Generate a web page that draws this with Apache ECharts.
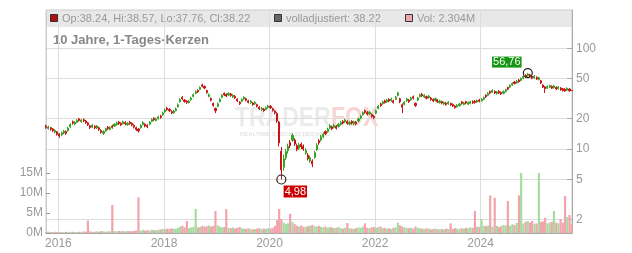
<!DOCTYPE html>
<html><head><meta charset="utf-8">
<script src="https://cdn.jsdelivr.net/npm/echarts@6/dist/echarts.min.js"></script>
<style>html,body{margin:0;padding:0;background:#fff}#c{width:632px;height:253px}</style>
</head><body><div id="c"></div>
<script>
// half-month periods Oct 2015 .. Sep 2025
const dates = [];
for (let m = 0; m < 120; m++) {
  const y = 2015 + Math.floor((9 + m) / 12);
  const mm = String((9 + m) % 12 + 1).padStart(2, '0');
  dates.push(y + '-' + mm + '-08', y + '-' + mm + '-23');
}
// [open, close, low, high]
const ohlc = [
[16.9,16.4,15.9,17.4],[16.0,16.5,15.6,17.0],[16.3,15.7,15.2,16.6],[15.8,15.2,14.7,16.1],[14.7,15.3,14.3,15.7],
[14.8,14.0,13.6,15.1],[14.1,13.5,12.9,14.4],[13.8,14.5,13.5,14.9],[14.4,15.0,14.0,15.5],[14.9,14.3,13.8,15.3],
[15.2,16.1,14.9,16.6],[16.6,17.5,16.2,18.0],[18.6,18.0,17.4,19.2],[17.7,18.4,17.2,18.9],[18.4,19.2,18.0,19.8],
[19.9,19.2,18.7,20.4],[18.7,19.4,18.2,19.9],[19.6,19.0,18.5,20.1],[19.0,18.3,17.8,19.4],[18.2,17.4,16.9,18.6],
[17.0,16.3,15.8,17.4],[16.5,17.2,16.1,17.7],[16.8,16.2,15.7,17.2],[16.2,16.9,15.8,17.3],[16.3,15.6,15.1,16.7],
[15.3,14.7,14.2,15.7],[14.3,14.9,13.8,15.3],[15.1,15.9,14.8,16.3],[16.5,15.9,15.4,16.9],[15.7,16.3,15.3,16.8],
[16.9,16.4,15.9,17.4],[16.9,17.6,16.5,18.1],[17.5,18.2,17.1,18.7],[18.5,17.9,17.3,19.0],[18.0,17.4,16.9,18.4],
[17.9,18.6,17.5,19.1],[18.4,17.8,17.2,18.9],[17.4,18.0,17.0,18.5],[18.5,17.9,17.4,19.0],[18.0,17.3,16.8,18.4],
[17.2,16.5,16.0,17.6],[16.3,15.6,15.1,16.7],[15.8,15.1,14.6,16.1],[16.2,17.1,15.9,17.6],[17.5,18.3,17.1,18.9],
[17.6,16.9,16.4,18.0],[17.2,16.6,16.1,17.6],[17.6,18.4,17.2,18.9],[18.8,19.6,18.4,20.2],[20.2,19.5,19.0,20.7],
[19.2,19.9,18.8,20.5],[20.0,20.8,19.6,21.4],[21.3,20.6,20.0,21.9],[21.8,22.8,21.4,23.5],[23.3,24.4,22.9,25.1],
[25.4,24.6,24.0,26.2],[24.8,24.0,23.3,25.4],[23.6,22.8,22.2,24.2],[22.9,23.8,22.4,24.5],[24.0,25.0,23.6,25.8],
[26.2,27.5,25.8,28.3],[29.5,31.0,29.0,31.9],[32.6,31.5,30.6,33.5],[30.6,29.6,28.8,31.4],[29.8,28.9,28.1,30.6],
[29.0,29.9,28.3,30.8],[30.8,32.0,30.2,33.0],[33.3,34.6,32.6,35.6],[35.7,37.1,35.0,38.2],[38.2,37.0,36.0,39.2],
[39.0,40.7,38.3,41.8],[43.3,42.0,41.0,44.5],[41.8,40.3,39.3,42.8],[38.0,36.4,35.4,38.8],[33.3,34.6,32.6,35.6],
[31.8,30.5,29.7,32.5],[28.3,27.0,26.3,28.9],[25.3,24.0,22.7,25.8],[26.6,28.1,26.0,28.9],[29.6,31.1,29.0,32.0],
[32.6,34.1,31.9,35.1],[35.7,34.4,33.5,36.6],[34.9,33.6,32.8,35.8],[34.3,35.6,33.5,36.6],[35.2,34.0,33.0,36.0],
[32.9,34.1,32.1,35.0],[33.4,32.2,31.4,34.3],[31.2,30.0,29.2,31.9],[29.2,28.1,27.4,29.9],[29.8,31.0,29.2,31.9],
[31.4,32.6,30.7,33.5],[31.6,30.5,29.7,32.4],[30.1,29.0,28.3,30.8],[28.8,29.8,28.1,30.6],[28.6,27.6,26.8,29.3],
[28.1,29.0,27.4,29.9],[27.6,26.6,25.9,28.2],[26.0,25.1,24.4,26.7],[24.6,25.4,23.9,26.1],[24.9,24.0,23.4,25.5],
[24.8,25.7,24.2,26.4],[25.8,26.7,25.2,27.5],[26.6,25.7,25.0,27.3],[25.1,24.2,23.5,25.7],[23.8,22.9,22.1,24.3],
[22.5,19.0,18.2,23.2],[18.5,11.5,10.6,19.0],[9.5,6.2,4.98,10.5],[6.6,8.0,6.1,8.8],[8.2,9.4,7.8,10.0],
[9.6,10.6,9.0,11.3],[11.6,10.8,10.2,12.3],[12.2,13.7,11.8,14.4],[12.3,11.2,10.7,12.8],[10.8,9.9,9.5,11.3],
[10.2,11.0,9.8,11.5],[11.2,10.5,10.0,11.6],[10.7,10.0,9.6,11.1],[9.1,9.7,8.8,10.2],[8.7,8.0,7.7,9.1],
[7.6,8.2,7.3,8.6],[7.6,7.1,6.6,7.9],[8.3,9.2,8.0,9.6],[9.9,10.9,9.6,11.4],[12.1,11.5,11.0,12.6],
[12.3,13.2,11.9,13.8],[13.2,14.0,12.8,14.6],[14.9,14.2,13.7,15.3],[14.9,15.7,14.5,16.3],[16.1,17.0,15.7,17.6],
[16.6,15.9,15.4,17.1],[16.4,17.2,16.0,17.8],[16.8,16.1,15.6,17.3],[16.8,17.6,16.3,18.2],[17.6,18.4,17.1,19.0],
[18.8,18.1,17.5,19.4],[18.6,19.4,18.1,20.0],[18.7,18.0,17.4,19.3],[17.7,18.4,17.1,18.9],[18.8,18.1,17.5,19.3],
[17.9,18.6,17.3,19.1],[18.5,17.8,17.2,19.0],[19.0,19.9,18.5,20.5],[20.3,21.2,19.8,21.9],[21.9,23.0,21.4,23.7],
[24.0,23.1,22.4,24.7],[23.1,22.2,21.5,23.8],[22.3,23.2,21.7,23.9],[22.0,21.1,20.4,22.6],[21.2,20.4,19.8,21.8],
[22.7,24.0,22.2,24.7],[25.3,26.6,24.7,27.3],[28.1,27.0,26.2,28.9],[28.2,29.4,27.5,30.2],[30.1,29.0,28.2,30.9],
[29.4,30.6,28.7,31.5],[31.1,30.0,29.2,31.9],[30.2,31.4,29.5,32.3],[30.1,29.0,28.2,30.9],[31.2,32.7,30.6,33.6],
[34.2,36.1,33.3,37.0],[31.5,29.4,28.5,32.3],[27.5,26.0,22.8,28.3],[27.8,29.1,27.1,29.9],[30.1,31.4,29.4,32.3],
[30.6,29.5,28.7,31.4],[30.8,32.1,30.1,33.0],[33.1,31.9,31.0,34.0],[28.4,27.0,26.2,29.0],[30.6,32.1,29.9,33.0],
[33.2,34.6,32.4,35.6],[35.0,33.8,32.9,36.0],[32.9,34.1,32.0,35.0],[33.1,32.0,31.1,33.9],[32.4,33.6,31.6,34.5],
[32.1,31.0,30.1,32.9],[31.1,30.0,29.2,31.8],[30.4,31.6,29.6,32.4],[30.6,29.5,28.7,31.3],[29.0,30.0,28.2,30.8],
[29.5,28.6,27.8,30.2],[28.0,29.0,27.3,29.7],[28.5,27.6,26.9,29.2],[28.2,29.2,27.5,29.9],[28.3,27.4,26.7,29.0],
[27.7,26.8,26.1,28.4],[26.7,25.8,25.1,27.3],[26.3,27.2,25.7,27.9],[27.0,28.0,26.4,28.7],[29.3,28.3,27.6,30.0],
[27.7,28.7,27.1,29.4],[29.5,28.6,27.8,30.2],[27.9,28.9,27.3,29.6],[28.4,29.4,27.8,30.1],[29.7,28.8,28.0,30.4],
[29.9,29.0,28.2,30.6],[29.3,30.3,28.6,31.0],[30.7,29.8,29.0,31.5],[30.1,31.2,29.5,32.0],[31.2,32.4,30.6,33.2],
[34.1,33.0,32.1,35.0],[34.2,35.7,33.5,36.6],[37.2,35.9,35.0,38.1],[36.7,38.2,36.0,39.2],[37.3,36.0,35.1,38.2],
[35.5,36.8,34.8,37.7],[37.5,36.2,35.3,38.4],[36.5,35.2,34.4,37.3],[35.8,37.1,35.0,38.1],[37.2,38.7,36.5,39.7],
[40.8,39.3,38.4,41.7],[41.1,42.8,40.3,43.9],[43.1,44.8,42.2,45.9],[46.3,44.7,43.7,47.5],[45.4,47.2,44.5,48.3],
[48.4,46.6,45.6,49.6],[48.0,50.0,47.0,51.2],[50.5,52.5,49.4,53.8],[54.0,52.0,50.9,55.3],[53.4,55.5,52.3,56.76],
[54.5,52.5,51.4,55.8],[52.5,50.5,49.4,53.8],[51.0,53.0,50.0,54.3],[51.5,49.5,48.5,52.7],[49.0,51.0,48.0,52.2],
[47.5,45.2,44.2,48.5],[43.2,41.2,40.3,44.0],[41.3,39.7,36.0,42.2],[40.2,41.8,39.4,42.8],[41.0,42.6,40.2,43.6],
[41.8,40.2,39.4,42.8],[40.7,42.3,39.9,43.3],[41.0,39.4,38.6,41.9],[39.7,41.3,38.9,42.2],[40.3,38.7,37.9,41.2],
[39.6,38.0,37.3,40.4],[39.3,37.7,37.0,40.1],[38.4,40.0,37.6,40.9],[39.4,37.8,37.1,40.2],[38.24,38.22,37.76,38.57]
];
// volume in millions
const volume = [
0.2,0.3,0.2,0.2,0.3,0.2,0.3,0.2,0.2,0.3, 0.2,0.2,0.3,0.2,0.2,0.3,0.2,0.4,0.3,3.1,
0.4,0.3,0.3,0.4,0.3,0.5,0.4,0.3,0.4,0.4, 7.0,0.5,0.4,0.5,0.4,0.5,0.4,0.5,0.5,0.4,
0.5,0.6,8.9,0.6,0.8,0.6,0.7,0.6,0.8,0.7, 0.7,0.8,0.9,1.0,0.9,1.1,1.0,1.2,1.0,1.1,
1.3,1.6,1.8,1.4,3.0,1.2,1.4,1.5,6.0,1.4, 1.5,1.8,1.6,1.7,1.9,1.6,1.8,5.5,1.9,1.6,
1.4,1.5,6.0,1.3,1.2,1.4,1.1,1.3,1.5,1.2, 1.1,1.0,1.2,1.0,0.9,1.0,1.1,1.2,1.0,1.1,
1.0,1.2,1.1,1.3,1.8,3.2,6.0,3.5,2.6,2.2, 2.4,4.8,2.8,2.2,1.8,1.6,1.9,1.5,1.6,1.7,
1.8,2.0,1.7,1.6,1.8,1.5,1.4,1.6,1.3,1.5, 1.4,1.2,1.3,1.5,1.2,1.1,1.3,2.5,1.2,1.1,
1.0,1.2,1.4,1.3,1.6,2.4,1.3,1.2,1.4,1.5, 1.3,1.5,1.6,1.2,1.3,1.1,1.2,1.0,1.3,1.4,
2.6,1.9,1.6,1.4,1.3,1.2,1.3,1.1,1.6,1.3, 1.2,1.1,1.0,1.2,1.1,0.9,1.0,1.1,0.9,1.0,
1.0,0.9,1.1,1.0,2.4,1.0,1.2,1.1,1.0,1.2, 1.1,1.3,1.2,1.4,1.3,5.5,1.6,1.5,3.5,1.8,
1.7,1.9,9.4,1.6,8.8,1.8,1.5,1.7,2.0,1.9, 8.0,1.8,2.2,2.0,2.5,9.4,15.0,2.4,2.8,3.0,
2.6,3.0,2.2,2.4,15.0,2.8,2.9,3.8,2.4,2.6, 2.8,5.5,2.6,2.4,3.5,2.6,9.3,4.0,4.5,2.304
];
const priceTicks = [2, 5, 10, 20, 50, 100];
const volTicks = [0, 5, 10, 15];
const yearTicks = ['2016-01-01', '2018-01-01', '2020-01-01', '2022-01-01', '2024-01-01'];
const xRange = ['2015-10-07', '2025-09-25'];
const highPoint = { idx: 219, value: 56.76, label: '56,76' };
const lowPoint = { idx: 107, value: 4.98, label: '4,98' };

const FONT = "'Liberation Sans', Arial, Helvetica, sans-serif";
const UP = '#33a324', DOWN = '#c81414';
const VOL_UP = '#a6dca0', VOL_DOWN = '#f2a3ab';
const last = ohlc[ohlc.length - 1];
const fmt = v => v.toFixed(2);
const ts = d => Date.parse(d + 'T00:00:00Z');

const chart = echarts.init(document.getElementById('c'), null, { renderer: 'canvas' });
const candleData = dates.map((d, i) => [ts(d), ohlc[i][0], ohlc[i][1], ohlc[i][2], ohlc[i][3]]);
const volData = dates.map((d, i) => ({
  value: [ts(d), volume[i]],
  itemStyle: { color: ohlc[i][1] >= ohlc[i][0] ? VOL_UP : VOL_DOWN }
}));
const axisLabelStyle = { color: '#999', fontSize: 12, fontFamily: FONT };
const yearTs = yearTicks.map(ts);

chart.setOption({
  animation: false,
  grid: { left: 46, right: 60, top: 10, bottom: 20, show: true, borderColor: '#ccc', borderWidth: 1 },
  xAxis: {
    type: 'value', min: ts(xRange[0]), max: ts(xRange[1]),
    axisLine: { show: true, onZero: false, lineStyle: { color: '#aaa' } },
    axisTick: { show: false, customValues: yearTs },
    axisLabel: Object.assign({ customValues: yearTs, margin: 5, formatter: v => String(new Date(v).getUTCFullYear()) }, axisLabelStyle),
    splitLine: { show: true, lineStyle: { color: '#ddd' } }
  },
  yAxis: [{
    type: 'log', position: 'right', min: 1.465, max: 240.1,
    axisLine: { show: true, lineStyle: { color: '#aaa' } },
    axisTick: { show: true, inside: true, length: 5, customValues: priceTicks, lineStyle: { color: '#aaa' } },
    axisLabel: Object.assign({ customValues: priceTicks, margin: 4 }, axisLabelStyle),
    splitLine: { show: true, lineStyle: { color: '#ddd' } }
  }, {
    type: 'value', position: 'left', min: 0, max: 55.75,
    axisLine: { show: true, onZero: false, lineStyle: { color: '#ccc' } },
    axisTick: { show: true, inside: true, length: 4, customValues: volTicks, lineStyle: { color: '#999' } },
    axisLabel: Object.assign({ customValues: volTicks, margin: 3, formatter: '{value}M' }, axisLabelStyle),
    splitLine: { show: false }
  }],
  graphic: [
    { type: 'rect', z: -5, shape: { x: 46, y: 10, width: 526, height: 17 }, style: { fill: '#e8e8e8' } },
    { type: 'text', z: -5, x: 235, y: 118, scaleX: 0.82, style: { text: 'TRADER', fill: '#ebebeb', font: "bold 28px 'Liberation Sans', Arial, sans-serif", verticalAlign: 'middle' } },
    { type: 'text', z: -5, x: 331, y: 118, scaleX: 0.82, style: { text: 'FOX', fill: '#f8d4d4', font: "bold 28px 'Liberation Sans', Arial, sans-serif", verticalAlign: 'middle' } },
    { type: 'text', z: -5, x: 240, y: 134, style: { text: 'REALTIME STOCK SCREENING', fill: '#e4e4e4', font: "bold 6px " + FONT, verticalAlign: 'middle' } },
    { type: 'rect', shape: { x: 50.5, y: 14.5, width: 7, height: 7 }, style: { fill: '#b31010', stroke: '#333', lineWidth: 1 } },
    { type: 'text', x: 62, y: 18.5, style: { text: 'Op:' + fmt(last[0]) + ', Hi:' + fmt(last[3]) + ', Lo:' + fmt(last[2]) + ', Cl:' + fmt(last[1]), fill: '#999', font: '11px ' + FONT, verticalAlign: 'middle' } },
    { type: 'rect', shape: { x: 274.5, y: 14.5, width: 7, height: 7 }, style: { fill: '#666', stroke: '#333', lineWidth: 1 } },
    { type: 'text', x: 286, y: 18.5, style: { text: 'volladjustiert: ' + fmt(last[1]), fill: '#999', font: '11px ' + FONT, verticalAlign: 'middle' } },
    { type: 'rect', shape: { x: 405.5, y: 14.5, width: 7, height: 7 }, style: { fill: '#f2a7b0', stroke: '#333', lineWidth: 1 } },
    { type: 'text', x: 417, y: 18.5, style: { text: 'Vol: ' + volume[volume.length - 1].toFixed(3) + 'M', fill: '#999', font: '11px ' + FONT, verticalAlign: 'middle' } },
    { type: 'text', x: 53, y: 40, style: { text: '10 Jahre, 1-Tages-Kerzen', fill: '#888', font: 'bold 13px ' + FONT, verticalAlign: 'middle' } }
  ],
  series: [{
    type: 'bar', xAxisIndex: 0, yAxisIndex: 1, data: volData, barWidth: 2.2, z: 1
  }, {
    type: 'candlestick', xAxisIndex: 0, yAxisIndex: 0, data: candleData, barWidth: 1.6, z: 3,
    itemStyle: { color: UP, color0: DOWN, borderColor: UP, borderColor0: DOWN, borderWidth: 1 },
    markPoint: {
      symbol: 'circle', symbolSize: 9,
      itemStyle: { color: 'rgba(0,0,0,0)', borderColor: '#222', borderWidth: 1.2 },
      data: [
        { coord: [ts(dates[highPoint.idx]), highPoint.value], value: highPoint.value,
          label: { show: true, position: 'inside', offset: [-21, -11], formatter: highPoint.label, color: '#fff', backgroundColor: '#149614', padding: [1, 1, 0, 1], fontSize: 11, fontFamily: FONT, lineHeight: 10 } },
        { coord: [ts(dates[lowPoint.idx]), lowPoint.value], value: lowPoint.value,
          label: { show: true, position: 'inside', offset: [14, 12], formatter: lowPoint.label, color: '#fff', backgroundColor: '#cc0000', padding: [1, 1, 0, 1], fontSize: 11, fontFamily: FONT, lineHeight: 11 } }
      ]
    }
  }]
});
</script></body></html>
